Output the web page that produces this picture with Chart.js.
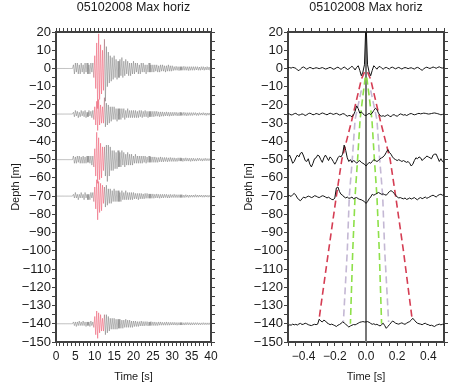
<!DOCTYPE html>
<html>
<head>
<meta charset="utf-8">
<script src="https://cdn.jsdelivr.net/npm/chart.js@4.4.1/dist/chart.umd.min.js"></script>
<style>
  body { margin: 0; background: #fff; width: 449px; height: 384px; overflow: hidden; position: relative; }
  canvas { position: absolute; top: 0; }
  #c1 { left: 0; }
  #c2 { left: 225px; }
</style>
</head>
<body>
<canvas id="c1" width="225" height="384"></canvas>
<canvas id="c2" width="224" height="384"></canvas>
<script>
const TITLE = '05102008 Max horiz';

// depths of the sensors [m]
const traceDepths = [0, -25, -50, -70, -140];

// seismograms, sampled every 0.25 s from 0 s (amplitude in plot units)
const SEIS_DT = 0.25;
const seis0 = [0,0,0,0,0,0,0,0,0,0,0,0,0,0,0,0,0,0,
  2,-3,3,-2,3,-3,2,-3,3,-2,2,-3,3,-2,3,-3,2,-3,3,-2,3,
  -5,7,-11,14,-22,19,-17,13,-14,10,
  -12,16,-18,12,-10,9,-8,7,
  -7,6,-6,7,-5,5,-6,4,-5,5,-4,6,-5,4,-4,5,-3,4,-4,3,-4,3,-3,4,
  -3,3,-2,3,-3,2,-3,3,-2,3,-2,2,-3,2,-2,3,-2,2,-2,2,
  -2,2,-1.5,2,-2,1.5,-2,2,-1.5,2,
  -1.5,1.5,-2,1.5,-1.5,2,-1.5,1.5,-1.5,1.5,
  -1.2,1,-1,1.2,-1,1,-1.2,1,-1,1,
  -1,1.2,-1,1,-1,1,-1.2,1,-1,1,
  -1,1,-1,1,-0.8,1,-1,0.8,-1,1,
  -0.8,1,-1,0.8,-0.8,1,-0.8,0.8,-1,0.8];
const seis25 = [0,0,0,0,0,0,0,0,0,0,0,0,0,0,0,0,0,0,
  1,-1.5,2,-1,1.5,-2,1,-1.5,2,-1,1.5,-1.5,2,-2,1,-1.5,2,-1,1.5,-2,2,
  -3,4,-6,7,-9,8,-6,5,-5,4,
  -5,9,-7,6,-6,5,-5,4,
  -4,4,-3,4,-3,3,-4,3,-3,3,-3,3,-2,3,-3,2,-2,3,-2,2,-2,2,-2,2,
  -2,2,-2,1.5,-2,2,-1.5,2,-2,1.5,-1.5,2,-1.5,1.5,-2,1.5,-1.5,1.5,-1.5,1.5,
  -1.5,1.5,-1.2,1.5,-1.2,1.2,-1.5,1.2,-1.2,1.2,
  -1.2,1,-1,1.2,-1,1,-1.2,1,-1,1,
  -1,1,-0.8,1,-1,0.8,-1,1,-0.8,0.8,
  -0.8,1,-0.8,0.8,-1,0.8,-0.8,0.8,-0.8,0.8,
  -0.8,0.8,-0.6,0.8,-0.8,0.6,-0.8,0.8,-0.6,0.6,
  -0.6,0.8,-0.6,0.6,-0.8,0.6,-0.6,0.6,-0.6,0.6];
const seis50 = [0,0,0,0,0,0,0,0,0,0,0,0,0,0,0,0,0,0,
  2,-2,1.5,-2,2,-1.5,2,-2,1.5,-2,2,-2,1.5,-2,2,-1.5,2,-2,2,-3,2,
  -4,6,-9,15,-13,12,-11,9,-10,7,
  -6,7,-9,8,-12,8,-9,7,
  -6,5,-6,5,-5,4,-5,5,-4,4,-4,5,-3,4,-4,3,-3,4,-3,3,-3,3,-3,2,
  -2,3,-2,2,-2,2,-2,2,-2,2,-1.5,2,-2,1.5,-1.5,2,-1.5,1.5,-1.5,1.5,
  -1.5,1.5,-1.5,1.2,-1.5,1.2,-1.2,1.5,-1.2,1.2,
  -1.2,1.2,-1,1.2,-1.2,1,-1,1.2,-1,1,
  -1,1,-1,0.8,-1,1,-0.8,1,-0.8,0.8,
  -1,0.8,-0.8,1,-0.8,0.8,-0.8,0.8,-1,0.8,
  -0.8,0.8,-0.8,0.6,-0.8,0.8,-0.6,0.8,-0.6,0.6,
  -0.8,0.6,-0.6,0.8,-0.6,0.6,-0.6,0.6,-0.6,0.6];
const seis70 = [0,0,0,0,0,0,0,0,0,0,0,0,0,0,0,0,0,0,
  1,-1,2,-1,1,-2,1,-1,2,-1,1,-2,2,-1,1,-2,1,-2,2,-1,2,
  -3,5,-7,9,-13,8,-9,7,-8,6,
  -4,5,-6,6,-5,4,-4,4,
  -4,3,-3,4,-3,3,-3,3,-3,2,-3,3,-2,2,-2,3,-2,2,-2,2,-2,2,-2,2,
  -1.5,1.5,-1.5,1.5,-2,1.5,-1.5,1.5,-1.5,1.2,-1.5,1.5,-1.2,1.5,-1.2,1.2,-1.2,1.2,-1.2,1.2,
  -1.2,1,-1,1.2,-1,1,-1.2,1,-1,1,
  -1,1,-0.8,1,-1,0.8,-1,1,-0.8,0.8,
  -0.8,1,-0.8,0.8,-0.8,0.8,-0.8,0.8,-0.8,0.8,
  -0.8,0.6,-0.8,0.8,-0.6,0.6,-0.8,0.6,-0.6,0.6,
  -0.6,0.6,-0.6,0.8,-0.6,0.6,-0.6,0.6,-0.5,0.6,
  -0.6,0.5,-0.6,0.6,-0.5,0.5,-0.6,0.5,-0.5,0.5];
const seis140 = [0,0,0,0,0,0,0,0,0,0,0,0,0,0,0,0,0,0,
  1,-1,1,-1.5,1,-1,1.5,-1,1,-1,1.5,-1,1,-1.5,1,-1,1,-1.5,1.5,-1,1,
  -2,4,-6,7,-8,6,-5,5,-4,3,
  -4,5,-6,5,-5,4,-4,3,
  -3,3,-3,3,-3,2.5,-3,2.5,-2.5,2.5,-2.5,2,-2.5,2,-2,2.5,-2,2,-2,2,-2,1.5,-2,1.5,
  -1.5,1.5,-1.5,1.2,-1.5,1.2,-1.2,1.5,-1.2,1.2,-1.2,1.2,-1,1.2,-1.2,1,-1,1.2,-1,1,
  -1,1,-1,0.8,-1,1,-0.8,1,-0.8,0.8,
  -0.8,0.8,-0.8,1,-0.8,0.8,-0.8,0.8,-0.7,0.8,
  -0.7,0.8,-0.7,0.7,-0.8,0.7,-0.7,0.7,-0.7,0.7,
  -0.7,0.6,-0.7,0.7,-0.6,0.7,-0.6,0.6,-0.7,0.6,
  -0.6,0.6,-0.6,0.6,-0.5,0.6,-0.6,0.5,-0.6,0.5,
  -0.5,0.6,-0.5,0.5,-0.5,0.5,-0.5,0.5,-0.5,0.5];
// part of the records shown in red [s]
const redWindow = [9.7, 12.5];

// cross-correlations, lag -0.5 .. 0.5 s every 0.01 s (amplitude in plot units)
const CC_LAG0 = -0.5, CC_DLAG = 0.01;
const cc0 = [0.3,0.5,0.2,0.6,0.4,0.1,-0.8,-1.2,-0.3,0.5,
  0.8,0.2,-0.4,0.1,0.6,0.3,-0.2,0.1,0.4,0.2,
  -0.1,0.2,0.5,0.1,-0.3,-0.1,0.3,0.6,0.2,-0.4,
  -0.2,0.4,0.7,0.1,-0.5,0.2,0.8,0.3,-0.6,-0.2,
  0.5,1.2,0.4,-0.8,0.6,1.5,-1.0,-4.0,-2.0,2.0,
  26,
  2.0,-2.0,-4.0,-1.0,1.5,0.6,-0.4,0.8,1.1,0.2,
  -0.4,0.3,0.6,0.1,-0.3,0.5,0.7,0.2,-0.2,0.3,
  0.6,0.1,-0.3,0.2,0.5,0.3,-0.1,0.2,0.4,0.0,
  -0.3,0.3,0.6,0.2,-0.5,-1.0,-0.2,0.4,0.7,0.3,
  0.0,0.4,0.8,0.5,0.1,0.6,0.9,0.4,0.2,0.5];
const cc25 = [0.2,0.0,-0.5,-0.3,0.2,0.4,-0.2,-0.6,-0.3,0.1,
  -0.2,-0.8,-0.4,0.2,0.5,0.1,-0.4,-0.2,0.3,0.1,
  -0.3,0.2,0.6,0.3,-0.1,-0.4,0.1,0.5,0.2,-0.2,
  0.1,0.4,0.0,-0.5,-0.3,0.2,0.1,-0.6,-1.2,-0.8,
  -0.9,-1.5,-0.5,1.5,4.5,3.0,0.5,1.2,0.2,-0.6,
  -0.8,
  -0.2,0.4,-0.3,0.6,2.0,3.2,2.5,0.5,-0.8,-1.2,
  -0.9,-1.3,-0.8,-0.4,-1.1,-1.4,-0.6,-0.3,-0.9,-1.2,
  -0.5,0.1,-0.2,-0.6,-0.3,-0.8,-0.4,0.1,0.3,-0.1,
  -0.4,-0.2,0.2,0.4,0.1,0.3,0.5,0.4,0.2,0.0,
  0.1,0.3,0.5,0.6,0.4,0.2,-0.1,-0.4,-0.2,0.0];
const cc50 = [1.5,2.5,0.5,-2.0,-1.0,1.0,2.5,1.5,3.5,4.0,
  2.0,-0.5,-1.0,0.5,-2.5,-4.0,-2.0,0.5,1.0,2.5,
  2.0,0.0,-1.5,1.0,2.5,1.0,-0.5,1.5,0.5,-1.0,
  -2.5,-1.0,1.0,2.0,1.5,3.0,8.0,5.0,1.0,-1.0,
  0.0,-1.5,-0.5,-1.0,-2.0,-1.0,-0.5,-1.5,-2.0,-2.5,
  -3.5,
  -2.5,-1.5,-2.0,-1.0,0.0,-0.5,-1.0,-0.5,0.5,1.0,
  1.5,2.5,4.0,5.5,4.0,3.0,1.5,0.5,0.0,-0.5,
  0.0,-0.5,-1.0,-0.5,-1.0,-1.5,-1.0,-2.0,-3.5,-2.5,
  -0.5,1.0,0.5,1.5,1.0,-0.5,0.5,1.0,2.0,1.5,
  1.0,0.5,2.5,3.0,3.0,1.0,-1.0,0.5,-1.0,-1.5];
const cc70 = [0.0,0.3,-0.2,0.8,1.5,0.5,-1.0,-2.0,-2.5,-1.5,
  -0.5,-1.0,-0.5,0.0,-0.3,-0.8,-0.5,0.2,0.0,-0.5,
  -0.8,-0.3,0.2,0.0,-0.5,-1.0,-0.6,-1.2,-1.8,-2.0,
  -1.0,4.5,5.0,2.5,1.0,0.5,-0.5,-1.0,-0.5,-1.2,
  -1.0,-0.5,-1.5,-1.0,-0.8,-1.4,-1.8,-2.0,-2.5,-3.0,
  -4.0,
  -3.0,-1.5,-0.5,1.0,0.5,1.0,1.5,2.0,1.5,1.0,
  1.2,0.8,0.5,1.5,2.5,3.0,2.5,1.5,0.5,-0.5,
  -1.0,-0.8,-1.2,-1.5,-1.0,-1.8,-1.5,-1.0,-1.6,-1.2,
  -0.8,-1.5,-2.0,-1.2,-0.8,-1.4,-1.0,-0.5,-1.2,-0.8,
  -0.3,0.2,0.5,0.0,-0.5,0.3,0.8,1.0,0.5,0.8];
const cc140 = [-1.5,-0.5,-0.8,-0.2,-0.6,-0.3,-0.7,-0.1,0.2,-0.4,
  -0.2,0.3,0.0,-0.5,-0.8,-1.0,-0.6,-0.3,-0.5,-0.2,
  2.5,1.5,1.0,2.0,1.5,0.5,0.0,-0.5,-0.2,-0.6,
  -1.0,-1.5,-0.8,-0.4,0.2,1.0,0.5,-0.3,-1.0,-1.8,
  -1.2,-0.8,-0.4,-0.6,-0.2,0.3,0.8,1.0,1.2,1.0,
  1.0,
  1.2,0.8,0.2,-0.3,0.0,-0.5,-0.3,-0.8,-1.2,-0.5,
  0.3,-1.0,-2.5,-1.5,-0.5,0.5,1.5,1.0,0.3,0.0,
  -0.2,0.2,0.5,0.0,-0.3,0.3,0.8,1.2,2.0,3.0,
  2.0,1.0,0.3,0.0,-0.2,-0.5,0.0,0.3,-0.3,-0.5,
  -1.0,-0.8,-1.2,-1.5,-0.8,-0.5,-0.2,-0.6,-0.3,-0.5];

// picked travel-time curves (lag [s] vs depth [m])
const redDepth = [-2, -6, -28, -50, -70, -100, -137];
const redLagLeft = [-0.01, -0.03, -0.09, -0.155, -0.19, -0.24, -0.30];
const redLagRight = [0.01, 0.03, 0.09, 0.155, 0.19, 0.24, 0.295];
const greenDepth = [-5, -15, -28, -50, -70, -100, -140];
const greenLagLeft = [-0.005, -0.02, -0.038, -0.054, -0.07, -0.085, -0.10];
const greenLagRight = [0.005, 0.02, 0.038, 0.054, 0.07, 0.085, 0.10];
const lilacDepth = [-12, -28, -50, -70, -100, -139];
const lilacLagLeft = [-0.03, -0.07, -0.088, -0.107, -0.12, -0.145];
const lilacLagRight = [0.03, 0.07, 0.088, 0.107, 0.12, 0.145];

const FONT = "'Liberation Sans', Arial, Helvetica, sans-serif";
const INK = '#1a1a1a';
const FRAME = '#404040';
const SEIS_GRAY = 'rgba(85,85,85,0.42)';
const SEIS_RED = 'rgba(236,90,112,0.6)';

const fmt = (v, dec) => (v < -1e-9 ? '\u2212' : '') + Math.abs(v).toFixed(dec);
const isMajor = (v, m) => Math.abs(v / m - Math.round(v / m)) < 1e-6;

const panelTitle = {
    id: 'panelTitle',
    afterDraw(chart, args, opts) {
        const { ctx, chartArea } = chart;
        ctx.save();
        ctx.font = '12.5px ' + FONT;
        ctx.fillStyle = INK;
        ctx.textAlign = 'center';
        ctx.textBaseline = 'middle';
        ctx.fillText(opts.text, (chartArea.left + chartArea.right) / 2, 8);
        ctx.restore();
    }
};

function makeScales(p) {
    const grid = { drawOnChartArea: false, drawTicks: true, tickLength: 4, tickColor: FRAME, tickWidth: 1 };
    const border = { display: true, color: FRAME, width: 2 };
    return {
        x: {
            type: 'linear', position: 'bottom', min: p.xMin, max: p.xMax,
            grid, border,
            ticks: {
                stepSize: p.xStep, autoSkip: false, maxRotation: 0, padding: 3, color: INK,
                font: { family: FONT, size: 12 },
                callback: v => isMajor(v, p.xMajor) ? fmt(v, p.xDec) : ''
            },
            title: { display: true, text: 'Time [s]', color: INK, font: { family: FONT, size: 11 }, padding: { top: 0, bottom: 0 } },
            afterFit: s => { s.height = 42; }
        },
        xTop: {
            type: 'linear', position: 'top', min: p.xMin, max: p.xMax,
            grid, border,
            ticks: { stepSize: p.xStep, autoSkip: false, display: false },
            afterFit: s => { s.height = 32; }
        },
        y: {
            type: 'linear', position: 'left', min: -150, max: 20,
            grid, border,
            ticks: {
                stepSize: 5, autoSkip: false, padding: 1, color: INK,
                font: { family: FONT, size: 13 },
                callback: v => isMajor(v, 10) ? fmt(v, 0) : ''
            },
            title: { display: true, text: 'Depth [m]', color: INK, font: { family: FONT, size: 11 }, padding: { top: p.yTitlePad, bottom: 0 } },
            afterFit: s => { s.width = p.yWidth; }
        },
        yRight: {
            type: 'linear', position: 'right', min: -150, max: 20,
            grid, border,
            ticks: { stepSize: 5, autoSkip: false, display: false },
            afterFit: s => { s.width = p.rightWidth; }
        }
    };
}

const baseOptions = scales => ({
    responsive: false,
    animation: false,
    events: [],
    layout: { padding: 0 },
    scales,
    plugins: { legend: { display: false }, tooltip: { enabled: false }, panelTitle: { text: TITLE } }
});

// left panel: records
const inRed = c => c.p0.parsed.x >= redWindow[0] && c.p1.parsed.x <= redWindow[1];
const seisTraces = [seis0, seis25, seis50, seis70, seis140];
const leftSets = seisTraces.map((tr, k) => ({
    data: tr.map((a, i) => ({ x: i * SEIS_DT, y: traceDepths[k] + a })),
    borderColor: SEIS_GRAY,
    borderWidth: 0.9,
    pointRadius: 0,
    segment: { borderColor: c => inRed(c) ? SEIS_RED : SEIS_GRAY }
}));

new Chart(document.getElementById('c1'), {
    type: 'line',
    data: { datasets: leftSets },
    options: baseOptions(makeScales({ xMin: 0, xMax: 40, xStep: 1, xMajor: 5, xDec: 0, yWidth: 56, rightWidth: 14, yTitlePad: 9 })),
    plugins: [panelTitle]
});

// right panel: correlations + picks
const ccTraces = [cc0, cc25, cc50, cc70, cc140];
const curve = (lags, depths) => lags.map((l, i) => ({ x: l, y: depths[i] }));
const dashed = (lags, depths, color) => ({
    data: curve(lags, depths), borderColor: color, borderWidth: 1.6, borderDash: [7, 4],
    pointRadius: 0, order: 2
});

const rightSets = [
    ...ccTraces.map((tr, k) => ({
        data: tr.map((a, i) => ({ x: CC_LAG0 + i * CC_DLAG, y: traceDepths[k] + a })),
        borderColor: '#111', borderWidth: 1, pointRadius: 0, order: 0
    })),
    dashed(redLagLeft, redDepth, 'rgba(208,40,64,0.9)'),
    dashed(redLagRight, redDepth, 'rgba(208,40,64,0.9)'),
    dashed(lilacLagLeft, lilacDepth, '#c4b8d4'),
    dashed(lilacLagRight, lilacDepth, '#c4b8d4'),
    dashed(greenLagLeft, greenDepth, '#8ee04a'),
    dashed(greenLagRight, greenDepth, '#8ee04a'),
    { data: [{ x: 0, y: 20 }, { x: 0, y: -150 }], borderColor: '#777', borderWidth: 2, pointRadius: 0, order: 3 }
];

new Chart(document.getElementById('c2'), {
    type: 'line',
    data: { datasets: rightSets },
    options: baseOptions(makeScales({ xMin: -0.5, xMax: 0.5, xStep: 0.05, xMajor: 0.2, xDec: 1, yWidth: 63, rightWidth: 5, yTitlePad: 17 })),
    plugins: [panelTitle]
});
</script>
</body>
</html>
